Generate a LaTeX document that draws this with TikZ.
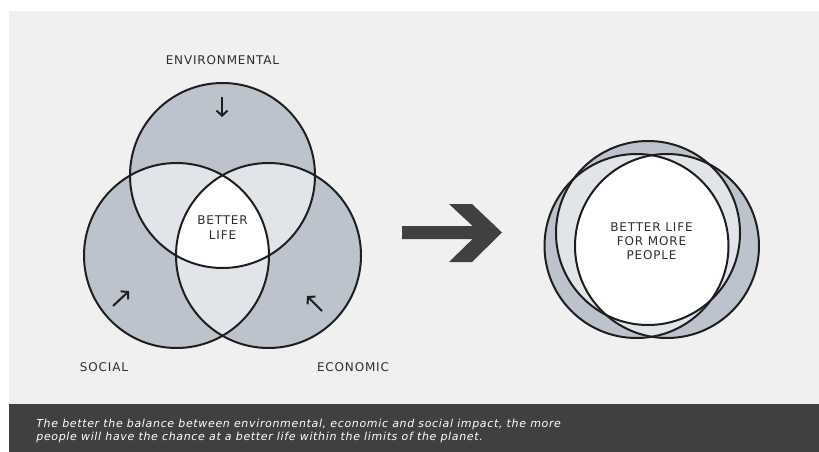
\documentclass[tikz,border=0pt]{standalone}
\usepackage{fontspec}
\setmainfont{DejaVu Sans}
\newfontfamily\capsfont[LetterSpace=7]{DejaVu Sans}
\newfontfamily\notefont[LetterSpace=6]{DejaVu Sans}
\usetikzlibrary{arrows.meta}

\definecolor{panel}{HTML}{F0F0F0}
\definecolor{bar}{HTML}{404040}
\definecolor{ring}{HTML}{BCC3CC}
\definecolor{overlap}{HTML}{E1E4E8}
\definecolor{ink}{HTML}{1E1E1E}
\definecolor{labelgrey}{HTML}{2E2E2E}

\tikzset{every picture/.style={line width=0.75pt}}
\tikzset{
  rim/.style={draw=ink, line width=2pt},
  tag/.style={inner sep=0pt, text=labelgrey, font=\capsfont\fontsize{12}{14}\selectfont, align=center},
  pointer/.style={draw=ink, line width=2pt, -{Straight Barb[length=5pt,width=11pt]}},
  note/.style={anchor=base west, inner sep=0pt, text=white, font=\notefont\itshape\fontsize{11}{13}\selectfont},
}

\begin{document}
\begin{tikzpicture}[x=1pt,y=1pt,yscale=-1,xscale=1]
\useasboundingbox (0,0) rectangle (819,452);

% Background
\fill[panel] (9,11) rectangle (819,404);
\fill[bar] (9,404) rectangle (819,452);

% Venn centres
\coordinate (envc) at (222.5,175.5);
\coordinate (socc) at (176.5,255.5);
\coordinate (ecoc) at (268.5,255.5);
\def\vr{92.5}

% Venn fills
\fill[ring] (envc) circle (\vr) (socc) circle (\vr) (ecoc) circle (\vr);
\begin{scope}
  \clip (envc) circle (\vr);
  \fill[overlap] (socc) circle (\vr) (ecoc) circle (\vr);
\end{scope}
\begin{scope}
  \clip (socc) circle (\vr);
  \fill[overlap] (ecoc) circle (\vr);
\end{scope}
\begin{scope}
  \clip (envc) circle (\vr);
  \clip (socc) circle (\vr);
  \fill[white] (ecoc) circle (\vr);
\end{scope}

% Venn outlines
\draw[rim] (envc) circle (\vr);
\draw[rim] (socc) circle (\vr);
\draw[rim] (ecoc) circle (\vr);

% Small arrows
\coordinate (envtail) at (222,97);
\coordinate (envhead) at (222,117);
\coordinate (soctail) at (113,306);
\coordinate (sochead) at (129,291);
\coordinate (ecotail) at (322,311);
\coordinate (ecohead) at (307,296);
\draw[pointer] (envtail) -- (envhead);
\draw[pointer] (soctail) -- (sochead);
\draw[pointer] (ecotail) -- (ecohead);

% Text Node
\node[tag] (envlabel) at (222.5,60) {ENVIRONMENTAL};
% Text Node
\node[tag] (soclabel) at (104,367) {SOCIAL};
% Text Node
\node[tag] (ecolabel) at (353,367) {ECONOMIC};
% Text Node
\node[tag, font=\capsfont\fontsize{12}{15}\selectfont] (core) at (222.5,228) {BETTER\\LIFE};

% Big arrow
\fill[bar] (402,226) -- (472.6,226) -- (449,204) -- (472,204) -- (502,232.5)
  -- (472,262) -- (449,262) -- (472.6,239) -- (402,239) -- cycle;

% Merged circles
\coordinate (topc) at (648,233);
\coordinate (leftc) at (636.5,246);
\coordinate (rightc) at (667,246);
\def\mr{92}
\fill[ring] (topc) circle (\mr) (leftc) circle (\mr) (rightc) circle (\mr);
\begin{scope}
  \clip (topc) circle (\mr);
  \fill[overlap] (leftc) circle (\mr) (rightc) circle (\mr);
\end{scope}
\begin{scope}
  \clip (leftc) circle (\mr);
  \fill[overlap] (rightc) circle (\mr);
\end{scope}
\begin{scope}
  \clip (topc) circle (\mr);
  \clip (leftc) circle (\mr);
  \fill[white] (rightc) circle (\mr);
\end{scope}
\draw[rim] (topc) circle (\mr);
\draw[rim] (leftc) circle (\mr);
\draw[rim] (rightc) circle (\mr);

% Text Node
\node[tag] (goal) at (651.5,241) {BETTER LIFE\\FOR MORE\\PEOPLE};

% Caption
\node[note] (line1) at (36,427) {The better the balance between environmental, economic and social impact, the more};
\node[note] (line2) at (36,440) {people will have the chance at a better life within the limits of the planet.};

\end{tikzpicture}
\end{document}
